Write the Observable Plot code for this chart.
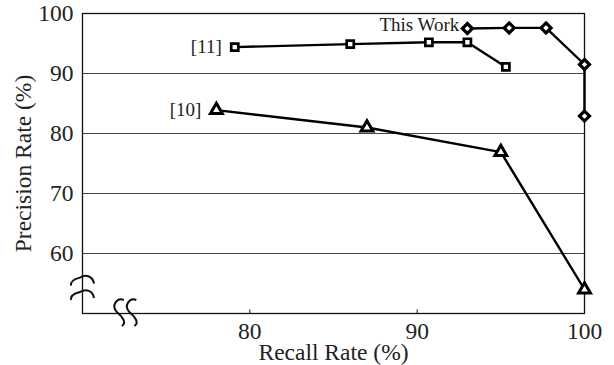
<!DOCTYPE html>
<html>
<head>
<meta charset="utf-8">
<script src="https://cdn.jsdelivr.net/npm/d3@7"></script>
<script src="https://cdn.jsdelivr.net/npm/@observablehq/plot@0.6"></script>
<style>
  html, body { margin: 0; padding: 0; background: #fff; }
  svg { display: block; }
  svg text { font-family: "Liberation Serif", serif !important; }
</style>
</head>
<body>
<div id="chart"></div>
<script>
// Data
const thisWorkRecall    = [93.0, 95.5, 97.7, 100, 100];
const thisWorkPrecision = [97.5, 97.6, 97.6, 91.5, 82.9];
const ref11Recall       = [79.1, 86.0, 90.7, 93.0, 95.3];
const ref11Precision    = [94.4, 94.9, 95.2, 95.2, 91.1];
const ref10Recall       = [78.0, 87.0, 95.0, 100];
const ref10Precision    = [83.9, 81.0, 76.9, 54.0];
const seriesNames = ["This Work", "[11]", "[10]"];
const xTicks = [80, 90, 100];
const yTicks = [60, 70, 80, 90, 100];
const gridLines = [60, 70, 80, 90];
const yBreaks = [55.4, 53.0];
const xBreaks = [72.2, 72.95];

const toRows = (xs, ys, name) => xs.map((x, i) => ({recall: x, precision: ys[i], series: name}));
const thisWork = toRows(thisWorkRecall, thisWorkPrecision, seriesNames[0]);
const ref11 = toRows(ref11Recall, ref11Precision, seriesNames[1]);
const ref10 = toRows(ref10Recall, ref10Precision, seriesNames[2]);

const font = "Liberation Serif";
const txt = "#222";

const plot = Plot.plot({
  width: 614,
  height: 365,
  marginLeft: 82,
  marginRight: 30,
  marginTop: 13,
  marginBottom: 52,
  style: {fontFamily: font, background: "#fff", color: txt},
  x: {domain: [70, 100]},
  y: {domain: [50, 100]},
  marks: [
    Plot.ruleY(gridLines, {stroke: "#444", strokeWidth: 1}),
    Plot.frame({stroke: "#111", strokeWidth: 1.3}),
    Plot.ruleX(xTicks.slice(0, 2), {y1: 50, y2: 50.6, stroke: "#111", strokeWidth: 1}),
    Plot.axisX(xTicks, {tickSize: 0, tickPadding: 9, fontSize: 23.5, fill: txt,
      label: "Recall Rate (%)", labelAnchor: "center", labelArrow: "none", labelOffset: 46}),
    Plot.axisY(yTicks, {tickSize: 0, tickPadding: 9, fontSize: 23.5, fill: txt,
      label: "Precision Rate (%)", labelAnchor: "center", labelArrow: "none", labelOffset: 68}),
    Plot.line(ref10, {x: "recall", y: "precision", stroke: "#000", strokeWidth: 2.4}),
    Plot.line(ref11, {x: "recall", y: "precision", stroke: "#000", strokeWidth: 2.4}),
    Plot.line(thisWork, {x: "recall", y: "precision", stroke: "#000", strokeWidth: 2.4}),
    Plot.dot(ref10, {x: "recall", y: "precision", symbol: "triangle", r: 4.4, fill: "#fff", stroke: "#000", strokeWidth: 3}),
    Plot.dot(ref11, {x: "recall", y: "precision", symbol: "square", r: 4, fill: "#fff", stroke: "#000", strokeWidth: 2.7}),
    Plot.dot(thisWork, {x: "recall", y: "precision", symbol: "diamond2", r: 4.5, fill: "#fff", stroke: "#000", strokeWidth: 3.2}),
    Plot.text([thisWork[0]], {x: "recall", y: "precision", text: "series", textAnchor: "end", dx: -8, dy: -4, fontSize: 19, fill: txt}),
    Plot.text([ref11[0]], {x: "recall", y: "precision", text: "series", textAnchor: "end", dx: -13, fontSize: 19, fill: txt}),
    Plot.text([ref10[0]], {x: "recall", y: "precision", text: "series", textAnchor: "end", dx: -15, fontSize: 19, fill: txt})
  ]
});

// axis-break decorations
const sx = plot.scale("x"), sy = plot.scale("y");
const svg = d3.select(plot);
const g = svg.append("g").attr("fill", "none").attr("stroke", "#111").attr("stroke-width", 2);
const x0 = sx.apply(70);
for (const b of yBreaks) {
  const y = sy.apply(b);
  g.append("path").attr("d",
    `M${x0 - 11},${y + 5} C${x0 - 12},${y} ${x0 - 6},${y - 2} ${x0 - 2},${y - 3} C${x0 + 4},${y - 7} ${x0 + 11},${y - 4} ${x0 + 12},${y + 3}`);
}
const y0 = sy.apply(50);
for (const b of xBreaks) {
  const x = sx.apply(b);
  g.append("path").attr("d",
    `M${x + 5},${y0 - 13} C${x - 2},${y0 - 16} ${x - 8},${y0 - 7} ${x - 2},${y0 - 1} C${x + 4},${y0 + 4} ${x + 8},${y0 + 10} ${x + 3},${y0 + 13}`);
}

document.getElementById("chart").appendChild(plot);
</script>
</body>
</html>
